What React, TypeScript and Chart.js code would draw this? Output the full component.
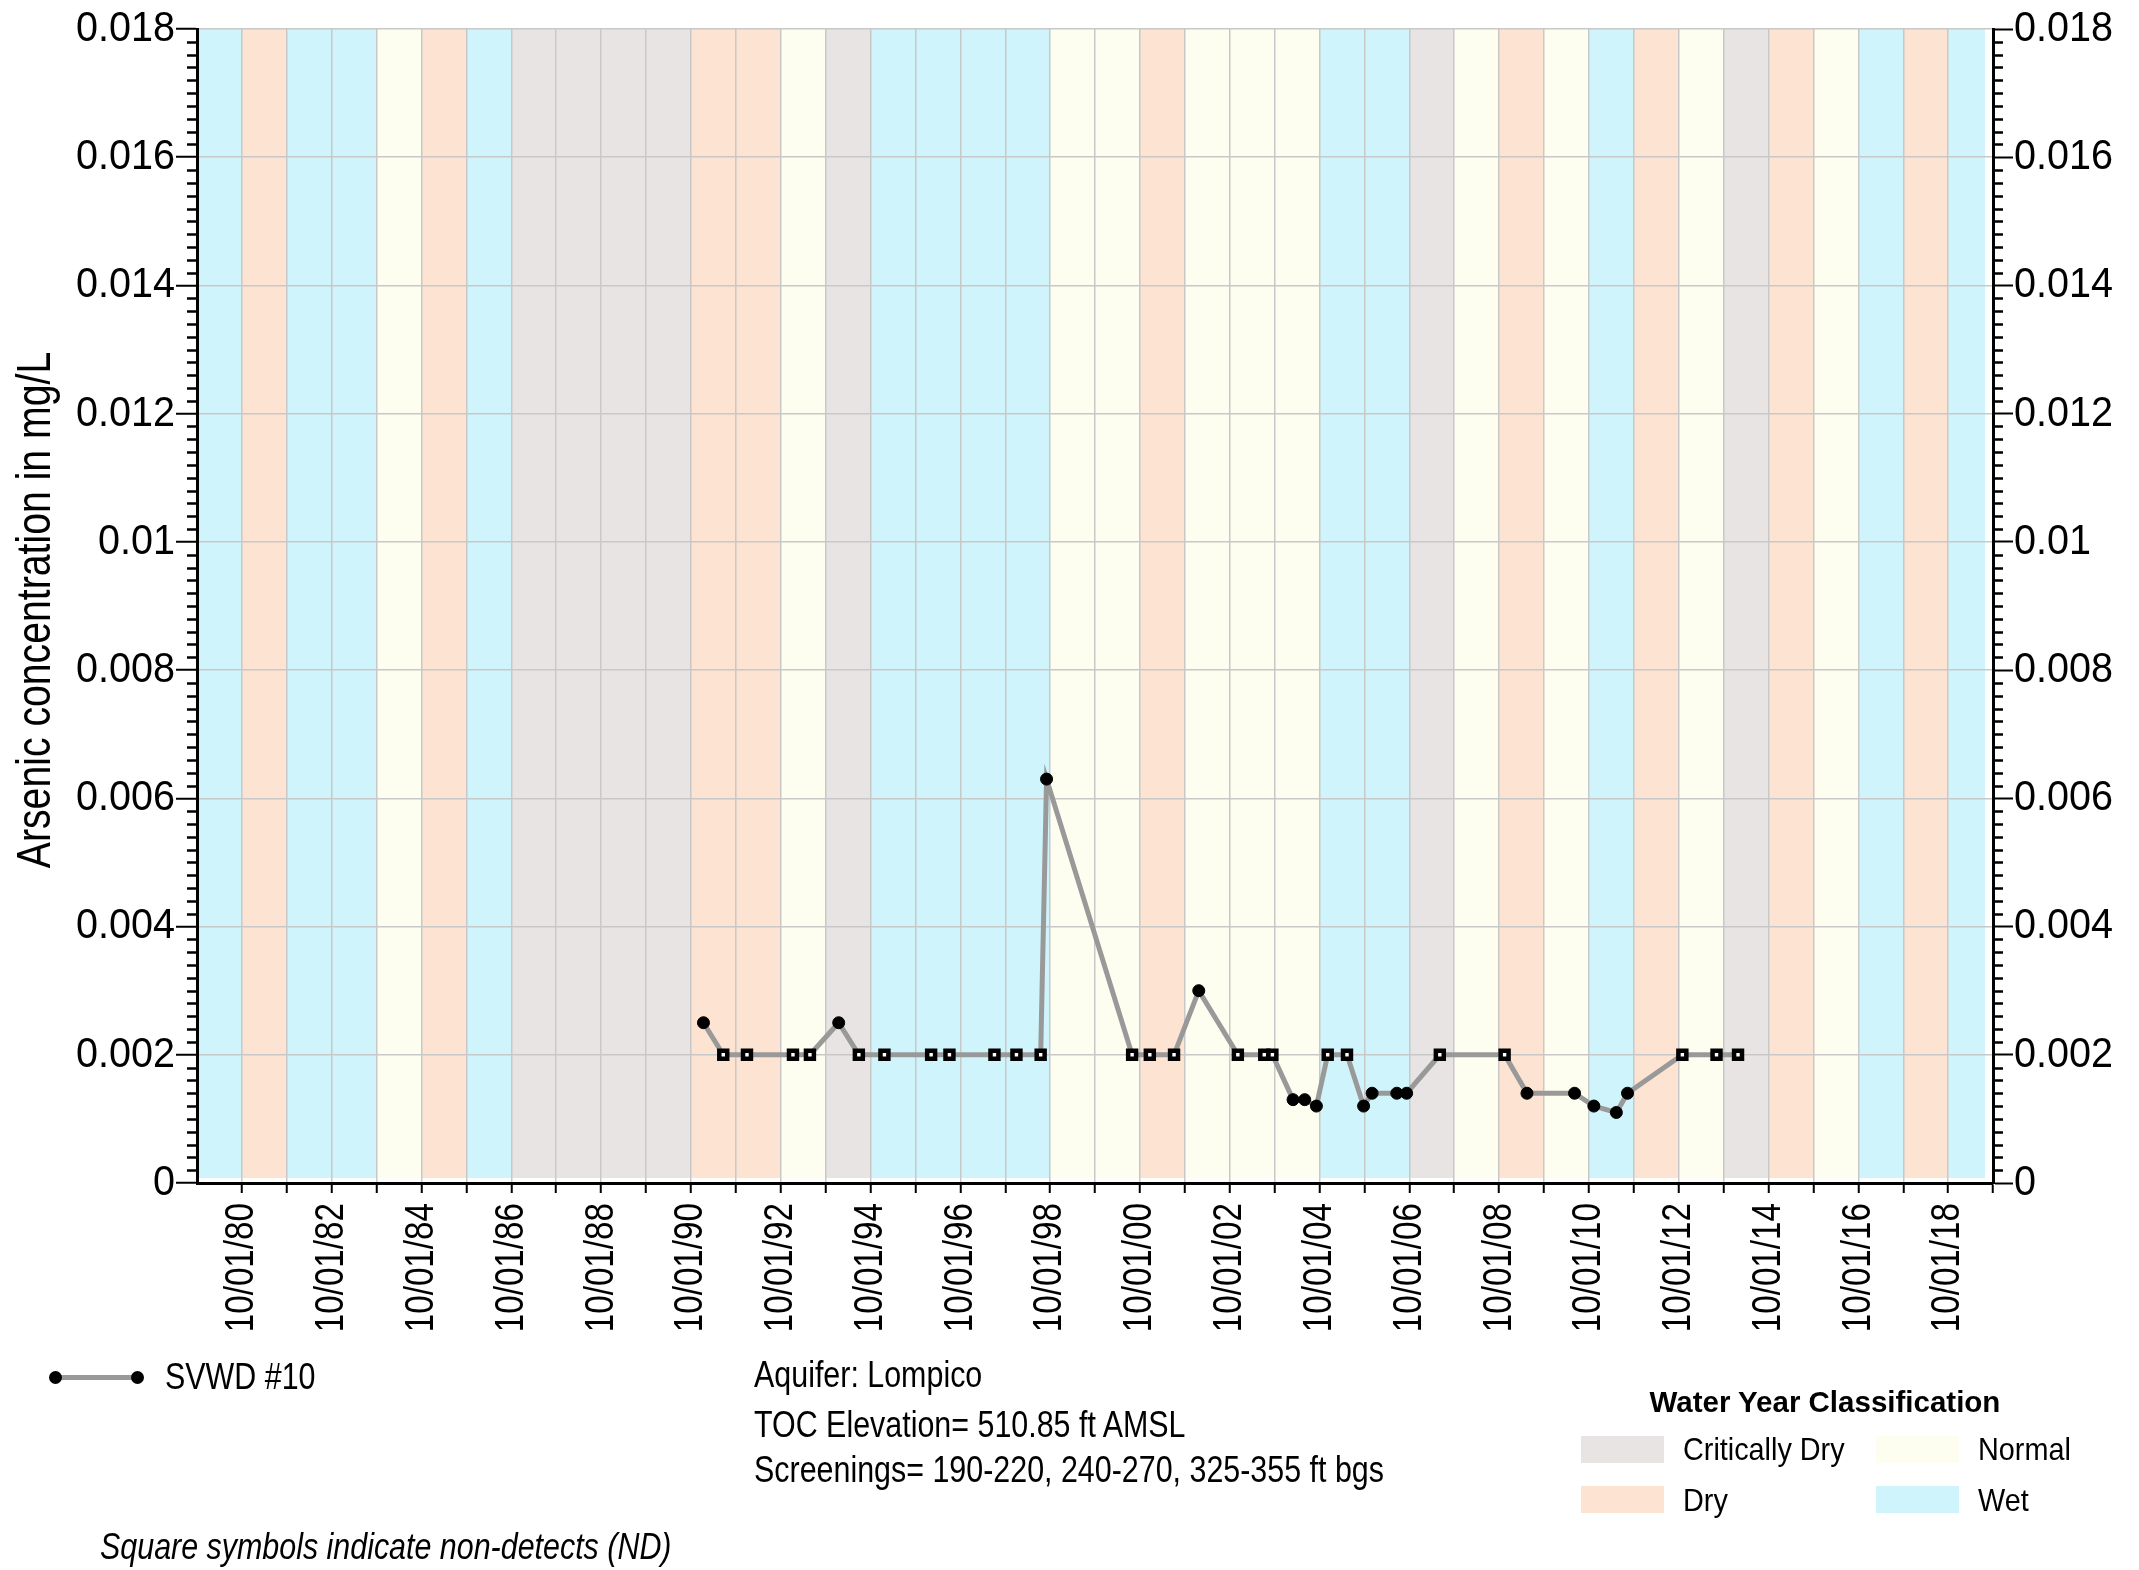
import React, { useEffect, useRef } from 'react';
import { Chart, registerables } from 'chart.js';
Chart.register(...registerables);

// ---------- DATA ----------
const sampleDates = [
  '1991-01-11', '1991-06-21', '1991-12-31', '1993-01-08', '1993-05-26',
  '1994-01-15', '1994-06-28', '1995-01-22', '1996-02-06', '1996-07-04',
  '1997-07-05', '1997-12-31', '1998-07-16', '1998-09-02', '2000-07-29',
  '2000-12-20', '2001-07-05', '2002-01-22', '2002-12-06', '2003-07-09',
  '2003-09-13', '2004-02-28', '2004-06-02', '2004-09-05', '2004-12-06',
  '2005-05-12', '2005-09-24', '2005-12-02', '2006-06-21', '2006-09-09',
  '2007-06-06', '2008-11-14', '2009-05-15', '2010-06-06', '2010-11-10',
  '2011-05-12', '2011-08-11', '2012-10-30', '2013-08-04', '2014-01-26',
];
const arsenicValues = [
  0.0025, 0.002, 0.002, 0.002, 0.002,
  0.0025, 0.002, 0.002, 0.002, 0.002,
  0.002, 0.002, 0.002, 0.0063, 0.002,
  0.002, 0.002, 0.003, 0.002, 0.002,
  0.002, 0.0013, 0.0013, 0.0012, 0.002,
  0.002, 0.0012, 0.0014, 0.0014, 0.0014,
  0.002, 0.002, 0.0014, 0.0014, 0.0012,
  0.0011, 0.0014, 0.002, 0.002, 0.002,
];
// true = non-detect (square symbol)
const nonDetect = [
  false, true, true, true, true,
  false, true, true, true, true,
  true, true, true, false, true,
  true, true, false, true, true,
  true, false, false, false, true,
  true, false, false, false, false,
  true, true, false, false, false,
  false, false, true, true, true,
];

const waterYears = [
  1980, 1981, 1982, 1983, 1984, 1985, 1986, 1987, 1988, 1989,
  1990, 1991, 1992, 1993, 1994, 1995, 1996, 1997, 1998, 1999,
  2000, 2001, 2002, 2003, 2004, 2005, 2006, 2007, 2008, 2009,
  2010, 2011, 2012, 2013, 2014, 2015, 2016, 2017, 2018, 2019,
];
// W = Wet, D = Dry, N = Normal, C = Critically Dry
const waterYearClass = [
  'W', 'D', 'W', 'W', 'N', 'D', 'W', 'C', 'C', 'C',
  'C', 'D', 'D', 'N', 'C', 'W', 'W', 'W', 'W', 'N',
  'N', 'D', 'N', 'N', 'N', 'W', 'W', 'C', 'N', 'D',
  'N', 'W', 'D', 'N', 'C', 'D', 'N', 'W', 'D', 'W',
];

const xTickYears = waterYears;
const xTickLabels = [
  '10/01/80', '', '10/01/82', '', '10/01/84', '', '10/01/86', '', '10/01/88', '',
  '10/01/90', '', '10/01/92', '', '10/01/94', '', '10/01/96', '', '10/01/98', '',
  '10/01/00', '', '10/01/02', '', '10/01/04', '', '10/01/06', '', '10/01/08', '',
  '10/01/10', '', '10/01/12', '', '10/01/14', '', '10/01/16', '', '10/01/18', '',
];
const yTickValues = [0, 0.002, 0.004, 0.006, 0.008, 0.01, 0.012, 0.014, 0.016, 0.018];
const yTickLabels = ['0', '0.002', '0.004', '0.006', '0.008', '0.01', '0.012', '0.014', '0.016', '0.018'];

const classColors: Record<string, string> = {
  W: '#d0f4fc',
  D: '#fde3d2',
  N: '#fefef0',
  C: '#e9e4e4',
};

const SANS = "'Liberation Sans', Arial, sans-serif";
// families carrying a marker that tells the canvas to squeeze the text horizontally
const NARROW_X = "'Liberation Sans', Cond81, sans-serif";
const NARROW_Y = "'Liberation Sans', Cond92, sans-serif";

const toTime = (s: string) => {
  const [y, m, d] = s.split('-').map(Number);
  return Date.UTC(y, m - 1, d);
};

const X_MIN = Date.UTC(1979, 9, 1);
const X_MAX = Date.UTC(2019, 9, 1);

const condensePlugin = {
  id: 'condense',
  beforeInit(chart: any) {
    const ctx = chart.ctx as CanvasRenderingContext2D;
    const orig = ctx.fillText;
    (ctx as any).fillText = function (text: string, x: number, y: number, maxWidth?: number) {
      const m = /Cond(\d+)/.exec(this.font);
      if (!m) {
        return maxWidth === undefined ? orig.call(this, text, x, y) : orig.call(this, text, x, y, maxWidth);
      }
      const k = Number(m[1]) / 100;
      this.save();
      this.translate(x, y);
      this.scale(k, 1);
      orig.call(this, text, 0, 0);
      this.restore();
    };
  },
};

const decorPlugin = {
  id: 'decor',
  beforeDraw(chart: any) {
    const { ctx, chartArea: a, scales } = chart;
    const x = scales.x;
    ctx.save();
    waterYears.forEach((wy, i) => {
      let x0 = x.getPixelForValue(Date.UTC(wy - 1, 9, 1));
      let x1 = x.getPixelForValue(Date.UTC(wy, 9, 1));
      x0 = Math.max(x0, a.left);
      x1 = Math.min(x1, a.right - 8);
      ctx.fillStyle = classColors[waterYearClass[i]];
      ctx.fillRect(x0, a.top, x1 - x0, a.bottom - 5 - a.top);
    });
    ctx.restore();
  },
  afterDraw(chart: any) {
    const { ctx, chartArea: a, scales } = chart;
    const y = scales.y;
    ctx.save();
    ctx.strokeStyle = '#000';
    ctx.lineWidth = 2.5;
    for (let k = 0; k <= 90; k++) {
      if (k % 10 === 0) continue;
      const py = Math.round(y.getPixelForValue(k * 0.0002)) + 0.5;
      ctx.beginPath();
      ctx.moveTo(a.left, py);
      ctx.lineTo(a.left - 10, py);
      ctx.moveTo(a.right, py);
      ctx.lineTo(a.right + 10, py);
      ctx.stroke();
    }
    // y-axis title (condensed)
    ctx.translate(36, 610);
    ctx.rotate(-Math.PI / 2);
    ctx.scale(0.8, 1);
    ctx.fillStyle = '#000';
    ctx.font = `49px ${SANS}`;
    ctx.textAlign = 'center';
    ctx.textBaseline = 'middle';
    ctx.fillText('Arsenic concentration in mg/L', 0, 0);
    ctx.restore();
  },
};

function abs(left: number, top: number, extra: React.CSSProperties = {}): React.CSSProperties {
  return { position: 'absolute', left, top, whiteSpace: 'nowrap', color: '#000', ...extra };
}

export default function App() {
  const ref = useRef<HTMLCanvasElement | null>(null);

  useEffect(() => {
    document.body.style.margin = '0';
    document.body.style.overflow = 'hidden';
    const canvas = ref.current;
    if (!canvas) return;
    const points = sampleDates.map((d, i) => ({ x: toTime(d), y: arsenicValues[i] }));

    const yAxisCommon = {
      type: 'linear' as const,
      min: 0,
      max: 0.018,
      afterBuildTicks: (s: any) => {
        s.ticks = yTickValues.map((v) => ({ value: v }));
      },
      ticks: {
        color: '#000',
        padding: 1,
        font: { family: NARROW_Y, size: 43 },
        callback: (_v: any, i: number) => yTickLabels[i],
      },
      border: { display: true, color: '#000', width: 3 },
    };

    const chart = new Chart(canvas, {
      type: 'line',
      data: {
        datasets: [
          {
            label: 'SVWD #10',
            data: points,
            borderColor: '#999999',
            borderWidth: 5,
            tension: 0,
            fill: false,
            pointStyle: nonDetect.map((nd) => (nd ? 'rect' : 'circle')) as any,
            pointRadius: nonDetect.map((nd) => (nd ? 5.6 : 6)),
            pointBackgroundColor: nonDetect.map((nd) => (nd ? '#ffffff' : '#000000')),
            pointBorderColor: '#000000',
            pointBorderWidth: nonDetect.map((nd) => (nd ? 4.5 : 1)),
          },
        ],
      },
      options: {
        responsive: false,
        animation: false,
        events: [],
        layout: { padding: { top: 29, left: 0, right: 0, bottom: 0 } },
        plugins: { legend: { display: false }, tooltip: { enabled: false } },
        scales: {
          x: {
            type: 'linear',
            min: X_MIN,
            max: X_MAX,
            afterBuildTicks: (s: any) => {
              s.ticks = xTickYears.map((yr) => ({ value: Date.UTC(yr, 9, 1) }));
            },
            afterFit: (s: any) => {
              s.height = 387;
            },
            ticks: {
              autoSkip: false,
              minRotation: 90,
              maxRotation: 90,
              padding: 10,
              color: '#000',
              font: { family: NARROW_X, size: 41 },
              callback: (_v: any, i: number) => xTickLabels[i],
            },
            grid: {
              color: '#c8c8c8',
              lineWidth: 1.5,
              tickLength: 10,
              tickColor: '#000',
              tickWidth: 2,
            },
            border: { display: true, color: '#000', width: 3 },
          },
          y: {
            ...yAxisCommon,
            position: 'left',
            afterFit: (s: any) => {
              s.width = 197;
            },
            grid: {
              color: '#c8c8c8',
              lineWidth: 1.5,
              tickLength: 21,
              tickColor: '#000',
              tickWidth: 2,
            },
          },
          y2: {
            ...yAxisCommon,
            position: 'right',
            afterFit: (s: any) => {
              s.width = 146;
            },
            grid: {
              drawOnChartArea: false,
              tickLength: 20,
              tickColor: '#000',
              tickWidth: 2,
            },
          },
        },
      } as any,
      plugins: [condensePlugin, decorPlugin],
    });
    return () => chart.destroy();
  }, []);

  const infoText: React.CSSProperties = {
    font: `36px ${SANS}`,
    lineHeight: '44px',
    transform: 'scaleX(0.845)',
    transformOrigin: 'left center',
  };
  const legendText: React.CSSProperties = {
    font: `32px ${SANS}`,
    lineHeight: '36px',
    transform: 'scaleX(0.9)',
    transformOrigin: 'left center',
  };

  return (
    <div style={{ position: 'relative', width: 2139, height: 1570, background: '#fff', overflow: 'hidden' }}>
      <canvas ref={ref} width={2139} height={1570} style={{ position: 'absolute', left: 0, top: 0, display: 'block' }} />

      {/* series legend */}
      <div style={abs(55, 1374.5, { width: 82, height: 5, background: '#999999' })} />
      <div style={abs(49, 1370.5, { width: 13, height: 13, borderRadius: '50%', background: '#000' })} />
      <div style={abs(130.5, 1370.5, { width: 13, height: 13, borderRadius: '50%', background: '#000' })} />
      <div style={abs(165, 1354.5, infoText)}>SVWD #10</div>

      {/* well info */}
      <div style={abs(754, 1353, infoText)}>Aquifer: Lompico</div>
      <div style={abs(754, 1403, infoText)}>TOC Elevation= 510.85 ft AMSL</div>
      <div style={abs(754, 1447.5, infoText)}>Screenings= 190-220, 240-270, 325-355 ft bgs</div>

      <div style={abs(100, 1525, { ...infoText, fontStyle: 'italic' })}>Square symbols indicate non-detects (ND)</div>

      {/* water year legend */}
      <div style={abs(1649.5, 1383.5, { font: `bold 29.5px ${SANS}`, lineHeight: '36px' })}>Water Year Classification</div>
      <div style={abs(1581, 1436, { width: 83, height: 27, background: classColors.C })} />
      <div style={abs(1683, 1431, legendText)}>Critically Dry</div>
      <div style={abs(1876, 1436, { width: 83, height: 27, background: classColors.N })} />
      <div style={abs(1978, 1431, legendText)}>Normal</div>
      <div style={abs(1581, 1486, { width: 83, height: 27, background: classColors.D })} />
      <div style={abs(1683, 1482, legendText)}>Dry</div>
      <div style={abs(1876, 1486, { width: 83, height: 27, background: classColors.W })} />
      <div style={abs(1978, 1482, legendText)}>Wet</div>
    </div>
  );
}
